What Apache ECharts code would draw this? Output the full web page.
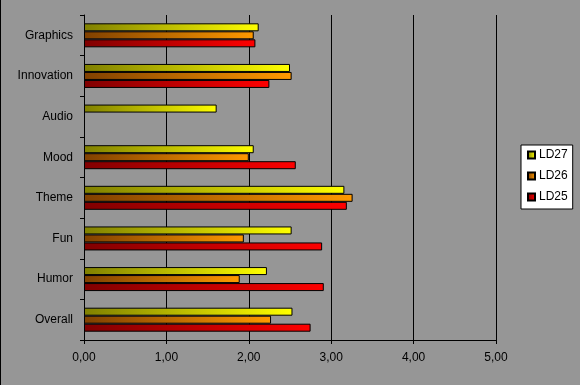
<!DOCTYPE html>
<html>
<head>
<meta charset="utf-8">
<script src="https://cdn.jsdelivr.net/npm/echarts@6/dist/echarts.min.js"></script>
<style>
html,body{margin:0;padding:0;background:#969696;}
#chart{width:580px;height:385px;}
</style>
</head>
<body>
<div id="chart"></div>
<script>
// Categories listed bottom to top
var categories = ['Overall', 'Humor', 'Fun', 'Theme', 'Mood', 'Audio', 'Innovation', 'Graphics'];
var ld27 = [2.53, 2.22, 2.52, 3.16, 2.06, 1.61, 2.50, 2.12];
var ld26 = [2.27, 1.89, 1.94, 3.26, 2.00, null, 2.52, 2.06];
var ld25 = [2.75, 2.91, 2.89, 3.19, 2.57, null, 2.25, 2.08];
var xTicks = [0, 1, 2, 3, 4, 5];

function grad(dark, bright) {
  return new echarts.graphic.LinearGradient(0, 0, 1, 0, [
    {offset: 0, color: dark}, {offset: 1, color: bright}
  ]);
}
var font = 'Liberation Sans, Arial, sans-serif';
function barSeries(name, data, dark, bright) {
  return {
    name: name, type: 'bar', data: data,
    barWidth: 8, barGap: '0%',
    itemStyle: {color: grad(dark, bright), borderColor: '#000', borderWidth: 1},
    emphasis: {disabled: true},
    animation: false
  };
}
var chart = echarts.init(document.getElementById('chart'));
chart.setOption({
  backgroundColor: '#969696',
  animation: false,
  grid: {left: 84, right: 84, top: 15, bottom: 45, containLabel: false},
  xAxis: {
    type: 'value', min: xTicks[0], max: xTicks[xTicks.length - 1], interval: 1,
    axisLine: {show: true, lineStyle: {color: '#000', width: 1}},
    axisTick: {show: true, length: 4, lineStyle: {color: '#000'}},
    axisLabel: {
      color: '#000', fontFamily: font, fontSize: 12, margin: 12,
      formatter: function (v) { return v.toFixed(2).replace('.', ','); }
    },
    splitLine: {show: true, lineStyle: {color: '#000', width: 1}}
  },
  yAxis: {
    type: 'category', data: categories,
    axisLine: {show: true, lineStyle: {color: '#000', width: 1}},
    axisTick: {show: true, length: 4, lineStyle: {color: '#000'}},
    axisLabel: {color: '#000', fontFamily: font, fontSize: 12, margin: 11},
    splitLine: {show: false}
  },
  legend: {
    data: ['LD27', 'LD26', 'LD25'],
    orient: 'vertical',
    left: 521, top: 145,
    backgroundColor: '#fff', borderColor: '#000', borderWidth: 1, borderRadius: 0,
    padding: [3, 5, 5, 6],
    itemWidth: 7, itemHeight: 7, itemGap: 7,
    icon: 'rect',
    textStyle: {color: '#000', fontFamily: font, fontSize: 12, lineHeight: 14, padding: [0, 0, 0, -1]},
    selectedMode: false
  },
  series: [
    barSeries('LD27', ld27, '#808000', '#ffff00'),
    barSeries('LD26', ld26, '#804000', '#ff9900'),
    barSeries('LD25', ld25, '#800000', '#ff0000')
  ],
  graphic: [{
    type: 'line', shape: {x1: 0.5, y1: 0, x2: 0.5, y2: 385},
    style: {stroke: '#000', lineWidth: 1}
  }]
});
</script>
</body>
</html>
